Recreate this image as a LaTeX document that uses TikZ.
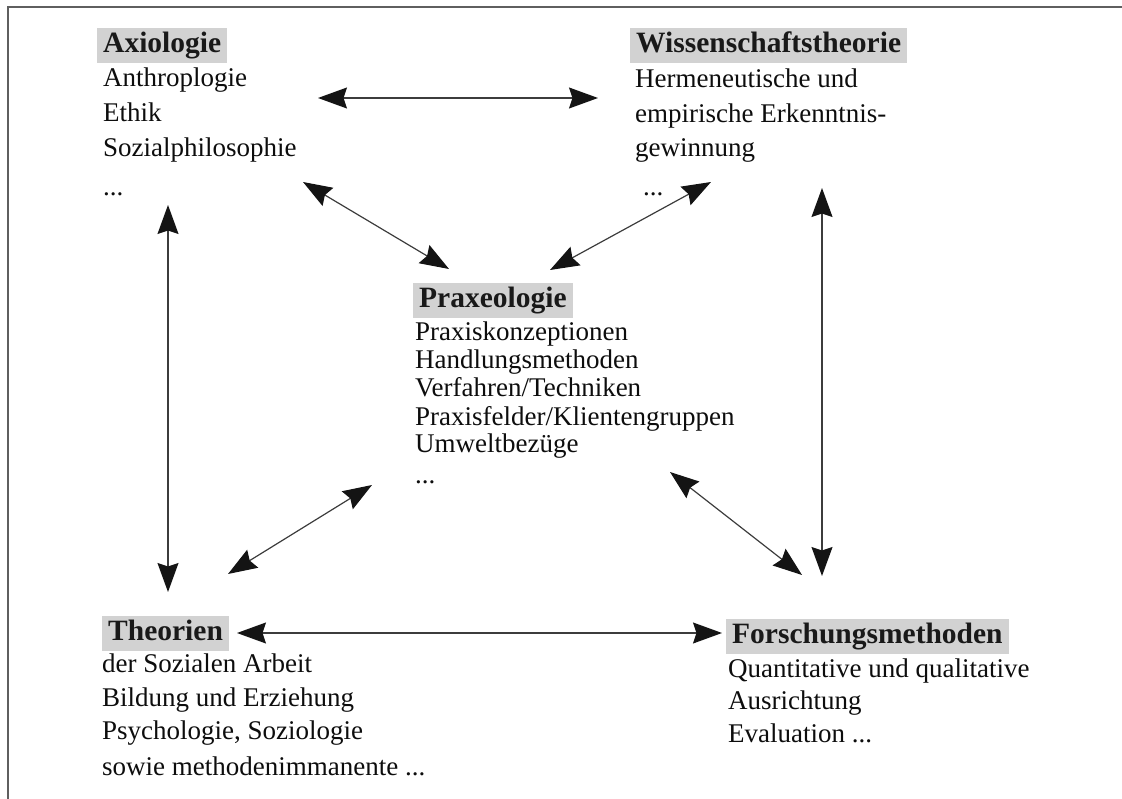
\documentclass[tikz,border=0pt]{standalone}
\usepackage{fontspec}
\setmainfont{Liberation Serif}
\usetikzlibrary{arrows.meta}
\definecolor{headgray}{RGB}{210,210,210}
\definecolor{framegray}{RGB}{95,95,95}
\definecolor{shaftgray}{RGB}{60,60,60}
\newcommand\mybody{\fontsize{27}{33}\selectfont}
\newcommand\myhead{\fontsize{29.5}{35}\selectfont\bfseries}
\tikzset{
  bodytext/.style={font=\mybody, anchor=base west, inner sep=0pt, text=black!95},
  headtext/.style={font=\myhead, anchor=base west, fill=headgray, inner xsep=6pt, inner ysep=3.5pt, text height=21pt, text depth=7pt, text=black!90},
  bighead/.style={Stealth[length=29pt,width=21pt,inset=3.5pt,color=black!92]},
  twoway/.style={{Stealth[length=29pt,width=21pt,inset=3.5pt,color=black!92]}-{Stealth[length=29pt,width=21pt,inset=3.5pt,color=black!92]}, draw=shaftgray, line width=1.2pt},
}
\begin{document}
\begin{tikzpicture}[x=1pt,y=-1pt]
\useasboundingbox (0,0) rectangle (1122,799);
\draw[framegray, line width=2pt] (8,799) -- (8,7) -- (1122,7);

% Axiologie
\node[headtext] (axh) at (97,53) {Axiologie};
\node[bodytext] (ax1) at (103,87) {Anthroplogie};
\node[bodytext] (ax2) at (103,122) {Ethik};
\node[bodytext] (ax3) at (103,157) {Sozialphilosophie};
\node[bodytext] (ax4) at (103,196) {...};

% Wissenschaftstheorie
\node[headtext] (wih) at (630,53) {Wissenschaftstheorie};
\node[bodytext] (wi1) at (635,88) {Hermeneutische und};
\node[bodytext] (wi2) at (635,123) {empirische Erkenntnis-};
\node[bodytext] (wi3) at (635,157) {gewinnung};
\node[bodytext] (wi4) at (643,196) {...};

% Praxeologie
\node[headtext] (prh) at (413,308) {Praxeologie};
\node[bodytext] (pr1) at (415,341) {Praxiskonzeptionen};
\node[bodytext] (pr2) at (415,369) {Handlungsmethoden};
\node[bodytext] (pr3) at (415,397) {Verfahren/Techniken};
\node[bodytext] (pr4) at (415,425) {Praxisfelder/Klientengruppen};
\node[bodytext] (pr5) at (415,453) {Umweltbezüge};
\node[bodytext] (pr6) at (415,483) {...};

% Theorien
\node[headtext] (thh) at (102,640) {Theorien};
\node[bodytext] (th1) at (102,672) {der Sozialen Arbeit};
\node[bodytext] (th2) at (102,706) {Bildung und Erziehung};
\node[bodytext] (th3) at (102,739) {Psychologie, Soziologie};
\node[bodytext] (th4) at (102,775) {sowie methodenimmanente ...};

% Forschungsmethoden
\node[headtext] (foh) at (726,643) {Forschungsmethoden};
\node[bodytext] (fo1) at (728,677) {Quantitative und qualitative};
\node[bodytext] (fo2) at (728,709) {Ausrichtung};
\node[bodytext] (fo3) at (728,742) {Evaluation ...};

% connector end points
\coordinate (axR) at (318,98);
\coordinate (wiL) at (598,98);
\coordinate (axD) at (303,182);
\coordinate (prUL) at (449,269);
\coordinate (wiD) at (711,182);
\coordinate (prUR) at (550,270);
\coordinate (axB) at (168,205);
\coordinate (thT) at (168,592);
\coordinate (wiB) at (822,188);
\coordinate (foT) at (822,576);
\coordinate (prLL) at (372,485);
\coordinate (thR) at (228,574);
\coordinate (prLR) at (670,472);
\coordinate (foL) at (802,575);
\coordinate (thE) at (237,633);
\coordinate (foW) at (722,633);

\draw[twoway] (axR) -- (wiL);
\draw[twoway] (axD) -- (prUL);
\draw[twoway] (wiD) -- (prUR);
\draw[twoway] (axB) -- (thT);
\draw[twoway] (wiB) -- (foT);
\draw[twoway] (prLL) -- (thR);
\draw[twoway] (prLR) -- (foL);
\draw[twoway] (thE) -- (foW);
\end{tikzpicture}
\end{document}
